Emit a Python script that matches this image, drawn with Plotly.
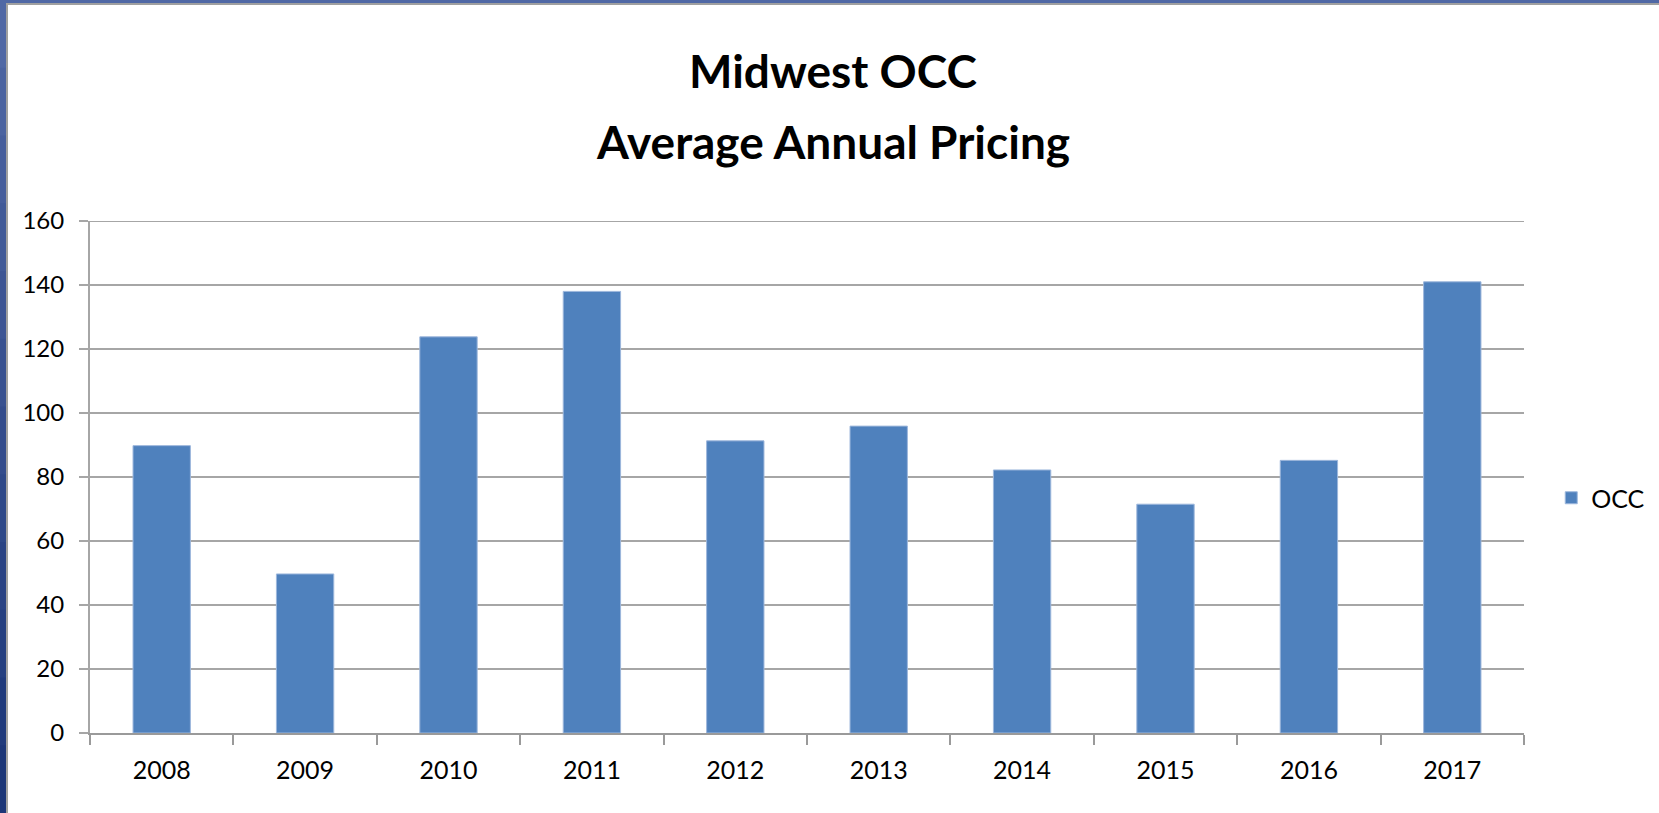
import plotly.graph_objects as go

years = ["2008", "2009", "2010", "2011", "2012", "2013", "2014", "2015", "2016", "2017"]
occ = [89.8, 49.7, 123.8, 138.0, 91.3, 95.9, 82.2, 71.5, 85.2, 141.0]
y_ticks = [0, 20, 40, 60, 80, 100, 120, 140, 160]
title_line1 = "Midwest OCC"
title_line2 = "Average Annual Pricing"
series_name = "OCC"

W, H = 1659, 813
ML, MR, MT, MB = 90, 135, 221, 80
PW, PH = W - ML - MR, H - MT - MB

def px_x(x):
    return (x - ML) / PW

def px_y(y):
    return (H - MB - y) / PH

FONT = "Lato"

fig = go.Figure()
fig.add_trace(go.Bar(
    x=years, y=occ, name=series_name,
    marker=dict(color="#4F81BD", line=dict(color="#9DB7DC", width=1)),
    width=0.4,
))

shapes = []
# top gridline at the range end
shapes.append(dict(type="line", xref="paper", yref="y",
                   x0=px_x(ML - 9), x1=1, y0=y_ticks[-1], y1=y_ticks[-1],
                   line=dict(color="#a6a6a6", width=2), layer="below"))
# slide background strips (left and top), gradient approximated by bands
n = 12
top_c = (80, 104, 165)
bot_c = (28, 54, 120)
for i in range(n):
    t = i / (n - 1)
    c = tuple(int(top_c[k] + (bot_c[k] - top_c[k]) * t) for k in range(3))
    y0 = H * i / n
    y1 = H * (i + 1) / n + 1
    shapes.append(dict(type="rect", xref="paper", yref="paper",
                       x0=px_x(0), x1=px_x(6), y0=px_y(y1), y1=px_y(y0),
                       fillcolor="rgb(%d,%d,%d)" % c, line=dict(width=0), layer="above"))
shapes.append(dict(type="rect", xref="paper", yref="paper",
                   x0=px_x(0), x1=px_x(W), y0=px_y(3), y1=px_y(0),
                   fillcolor="rgb(80,104,165)", line=dict(width=0), layer="above"))
shapes.append(dict(type="line", xref="paper", yref="paper",
                   x0=px_x(7), x1=px_x(7), y0=px_y(H), y1=px_y(4),
                   line=dict(color="#a0a0a0", width=2), layer="above"))
shapes.append(dict(type="line", xref="paper", yref="paper",
                   x0=px_x(6), x1=px_x(W), y0=px_y(4), y1=px_y(4),
                   line=dict(color="#a0a0a0", width=2), layer="above"))

annotations = [
    dict(text="<b>%s</b>" % title_line1, xref="paper", yref="paper",
         x=px_x(833), y=px_y(70), xanchor="center", yanchor="middle",
         showarrow=False, font=dict(family=FONT, size=46, color="#000")),
    dict(text="<b>%s</b>" % title_line2, xref="paper", yref="paper",
         x=px_x(833), y=px_y(141), xanchor="center", yanchor="middle",
         showarrow=False, font=dict(family=FONT, size=46, color="#000")),
]

fig.update_layout(
    width=W, height=H,
    margin=dict(l=ML, r=MR, t=MT, b=MB, autoexpand=False),
    paper_bgcolor="white", plot_bgcolor="white",
    showlegend=True,
    legend=dict(x=1.019, y=px_y(498), xanchor="left", yanchor="middle",
                font=dict(family=FONT, size=25, color="#000"),
                bgcolor="rgba(0,0,0,0)", itemwidth=30),
    bargap=0.6,
    shapes=shapes,
    annotations=annotations,
    xaxis=dict(
        type="category", showgrid=False, showline=True, linecolor="#9a9a9a", linewidth=2,
        ticks="outside", tickson="boundaries", ticklen=10, tickcolor="#9a9a9a", tickwidth=2,
        tickfont=dict(family=FONT, size=25, color="#000"), ticklabelstandoff=14,
    ),
    yaxis=dict(
        range=[0, 160], tickvals=y_ticks, showgrid=True, gridcolor="#a6a6a6", gridwidth=2,
        showline=True, linecolor="#a6a6a6", linewidth=2, zeroline=False,
        ticks="outside", ticklen=9, tickcolor="#a6a6a6", tickwidth=2,
        tickfont=dict(family=FONT, size=24, color="#000"), ticklabelstandoff=10,
    ),
)

fig.write_html("out.html", config={"displayModeBar": False},
               post_script="document.body.style.margin='0';document.body.style.overflow='hidden';")
